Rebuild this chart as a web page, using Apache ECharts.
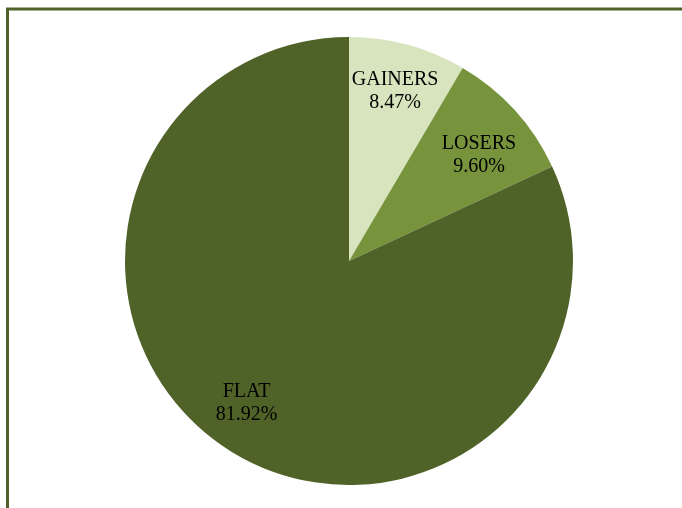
<!DOCTYPE html>
<html>
<head>
<meta charset="utf-8">
<script src="https://cdn.jsdelivr.net/npm/echarts@6/dist/echarts.min.js"></script>
<style>
  html, body { margin: 0; padding: 0; background: #fff; }
  #pie { width: 682px; height: 508px; }
</style>
</head>
<body>
<div id="pie"></div>
<script>
// slice names, shares (%) and colours
const categories = ["GAINERS", "LOSERS", "FLAT"];
const shares = [8.47, 9.60, 81.92];
const colors = ["#d7e4bd", "#77933c", "#4f6228"];
// small nudges so labels sit where the original placed them
const labelOffsets = [[0, 0], [0, 12], [-8, -6]];

var myChart = echarts.init(document.getElementById("pie"));

var pieData = categories.map(function (name, i) {
  return { name: name, value: shares[i], itemStyle: { color: colors[i] } };
});

var option = {
  backgroundColor: "#ffffff",
  animation: false,
  // frame around the chart (only top / left visible)
  graphic: [
    {
      type: "rect",
      shape: { x: 7.5, y: 9, width: 800, height: 700 },
      style: { fill: null, stroke: "#4f6228", lineWidth: 3 },
      silent: true,
    },
  ],
  series: [
    {
      type: "pie",
      center: [349, 261],
      radius: [0, 224],
      startAngle: 90,
      clockwise: true,
      label: { show: false },
      labelLine: { show: false },
      itemStyle: { borderWidth: 0 },
      data: pieData,
      silent: true,
    },
    {
      // transparent ring only used to place the labels
      type: "pie",
      center: [349, 261],
      radius: [121, 224],
      startAngle: 90,
      clockwise: true,
      itemStyle: { color: "rgba(0,0,0,0)", borderWidth: 0 },
      label: {
        show: true,
        position: "inside",
        color: "#000",
        fontFamily: "Liberation Serif",
        fontSize: 20,
        lineHeight: 23,
        align: "center",
        formatter: function (p) {
          return p.name + "\n" + p.value.toFixed(2) + "%";
        },
      },
      labelLine: { show: false },
      data: categories.map(function (name, i) {
        return { name: name, value: shares[i], label: { offset: labelOffsets[i] } };
      }),
      silent: true,
    },
  ],
};

myChart.setOption(option);
</script>
</body>
</html>
